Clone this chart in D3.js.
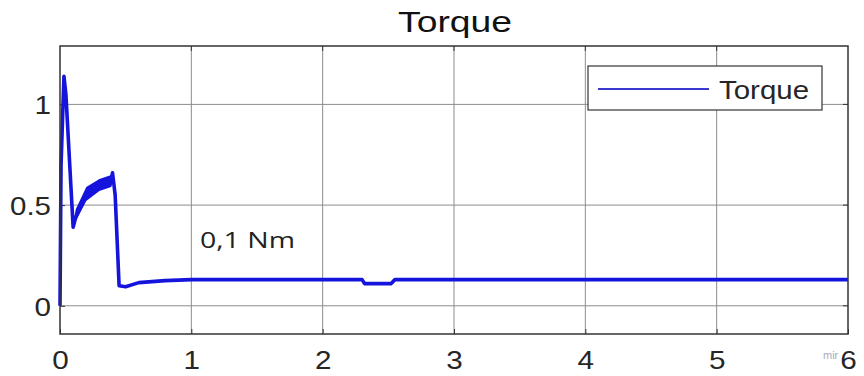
<!DOCTYPE html>
<html>
<head>
<meta charset="utf-8">
<script src="https://cdn.jsdelivr.net/npm/d3@7"></script>
<style>
  html, body { margin: 0; padding: 0; background: #fff; }
  svg { display: block; }
</style>
</head>
<body>
<svg id="chart" width="864" height="376"></svg>
<script>
// Motor torque response (Nm) over time (s)
const timeS   = [0, 0.008, 0.03, 0.045, 0.1, 0.12, 0.2, 0.3, 0.39, 0.4, 0.42, 0.45, 0.5, 0.6, 0.8, 1.0, 2.0, 2.3, 2.32, 2.52, 2.55, 3.0, 4.0, 5.0, 6.0];
const torque  = [0, 0.7, 1.14, 1.05, 0.39, 0.44, 0.55, 0.6, 0.63, 0.66, 0.55, 0.1, 0.095, 0.115, 0.125, 0.13, 0.13, 0.13, 0.11, 0.11, 0.13, 0.13, 0.13, 0.13, 0.13];
// Ripple envelope of the start-up segment
const rippleT    = [0.1, 0.12, 0.2, 0.3, 0.39, 0.4];
const rippleLow  = [0.38, 0.42, 0.52, 0.57, 0.59, 0.61];
const rippleHigh = [0.41, 0.48, 0.59, 0.63, 0.65, 0.67];

const xTicks = [0, 1, 2, 3, 4, 5, 6];
const yTicks = [0, 0.5, 1];
const yTickLabels = ["0", "0.5", "1"];

const svg = d3.select("#chart");
const margin = { left: 60, right: 16, top: 46, bottom: 42 };
const W = 864, H = 376;

const x = d3.scaleLinear().domain([0, 6]).range([margin.left, W - margin.right]);
const y = d3.scaleLinear().domain([-0.14, 1.29]).range([H - margin.bottom, margin.top]);

const font = "'Liberation Sans', Arial, sans-serif";
const ink = "#262626";
const gx0 = x.range()[0], gx1 = x.range()[1], gy0 = y.range()[0], gy1 = y.range()[1];

// Grid
svg.append("g").selectAll("line").data(xTicks.slice(1, -1)).join("line")
  .attr("x1", d => x(d)).attr("x2", d => x(d))
  .attr("y1", gy1).attr("y2", gy0)
  .attr("stroke", "#8c8c8c").attr("stroke-width", 1);
svg.append("g").selectAll("line").data(yTicks).join("line")
  .attr("x1", gx0).attr("x2", gx1)
  .attr("y1", d => y(d)).attr("y2", d => y(d))
  .attr("stroke", "#8c8c8c").attr("stroke-width", 1);

// Axes with inward ticks
const xAxis = svg.append("g").attr("transform", `translate(0,${gy0})`)
  .call(d3.axisBottom(x).tickValues(xTicks).tickSize(-5).tickPadding(14).tickFormat(d3.format("d")));
const yAxis = svg.append("g").attr("transform", `translate(${gx0},0)`)
  .call(d3.axisLeft(y).tickValues(yTicks).tickSize(-5).tickPadding(9).tickFormat((d, i) => yTickLabels[i]));
[xAxis, yAxis].forEach(g => {
  g.select(".domain").remove();
  g.selectAll(".tick line").attr("stroke", "#333");
  g.selectAll(".tick text").attr("font-family", font).attr("font-size", 26).attr("fill", ink)
    .attr("transform", function () {
      // slightly wide glyphs
      const t = d3.select(this);
      return null;
    });
});
xAxis.selectAll(".tick text").attr("dy", "0.8em")
  .attr("textLength", (d) => String(d).length * 16.5).attr("lengthAdjust", "spacingAndGlyphs");
yAxis.selectAll(".tick text").attr("dy", "0.36em")
  .attr("textLength", (d, i) => yTickLabels[i] === "0.5" ? 41 : 16.5).attr("lengthAdjust", "spacingAndGlyphs");

// Ticks on top and right edges
svg.append("g").selectAll("line").data(xTicks.slice(1, -1)).join("line")
  .attr("x1", d => x(d)).attr("x2", d => x(d))
  .attr("y1", gy1).attr("y2", gy1 + 5)
  .attr("stroke", "#333");
svg.append("g").selectAll("line").data(yTicks).join("line")
  .attr("x1", gx1 - 5).attr("x2", gx1)
  .attr("y1", d => y(d)).attr("y2", d => y(d))
  .attr("stroke", "#333");

// Ripple band
const band = d3.area()
  .x((d, i) => x(rippleT[i]))
  .y0((d, i) => y(rippleLow[i]))
  .y1((d, i) => y(rippleHigh[i]));
svg.append("path").datum(rippleT).attr("d", band).attr("fill", "#1414dc");

// Torque trace
const line = d3.line().x((d, i) => x(timeS[i])).y(d => y(d));
svg.append("path").datum(torque).attr("d", line)
  .attr("fill", "none").attr("stroke", "#1414dc").attr("stroke-width", 3.6)
  .attr("stroke-linejoin", "round");

// Frame
svg.append("rect")
  .attr("x", gx0).attr("y", gy1)
  .attr("width", gx1 - gx0).attr("height", gy0 - gy1)
  .attr("fill", "none").attr("stroke", "#333").attr("stroke-width", 1.5);

// Title
svg.append("text").attr("x", 455).attr("y", 32).attr("text-anchor", "middle")
  .attr("font-family", font).attr("font-size", 29).attr("fill", "#111")
  .attr("textLength", 114).attr("lengthAdjust", "spacingAndGlyphs").text("Torque");

// Legend
const lg = svg.append("g").attr("transform", "translate(588,66)");
lg.append("rect").attr("width", 234).attr("height", 44)
  .attr("fill", "#fff").attr("stroke", "#333").attr("stroke-width", 1.2);
lg.append("line").attr("x1", 10).attr("x2", 121).attr("y1", 23).attr("y2", 23)
  .attr("stroke", "#3a3ad0").attr("stroke-width", 2);
lg.append("text").attr("x", 131).attr("y", 33).attr("font-family", font)
  .attr("font-size", 26).attr("fill", ink)
  .attr("textLength", 90).attr("lengthAdjust", "spacingAndGlyphs").text("Torque");

// Steady-state annotation
svg.append("text").attr("x", 200).attr("y", 248)
  .attr("font-family", "'Open Sans', 'Noto Sans', sans-serif").attr("font-size", 22)
  .attr("fill", "#222").attr("textLength", 95).attr("lengthAdjust", "spacingAndGlyphs").text("0,1 Nm");

// Corner mark
svg.append("text").attr("x", 823).attr("y", 359)
  .attr("font-family", font).attr("font-size", 11).attr("fill", "#a8a8c0").text("mir");
</script>
</body>
</html>
